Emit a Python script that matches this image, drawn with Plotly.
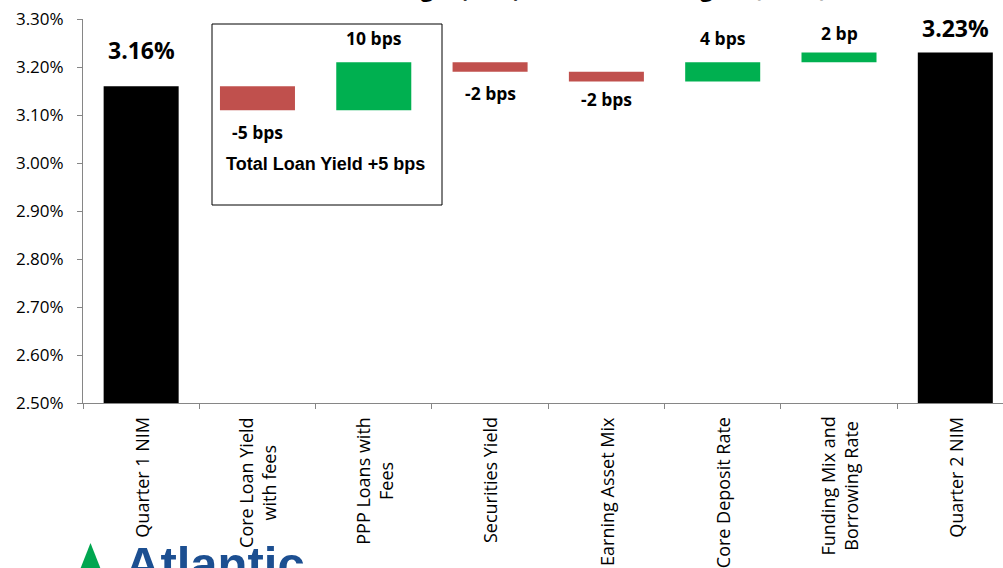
import plotly.graph_objects as go

# Net interest margin walk, quarter 1 -> quarter 2 (values in percent)
categories = [
    "Quarter 1 NIM",
    "Core Loan Yield<br>with fees",
    "PPP Loans with<br>Fees",
    "Securities Yield",
    "Earning Asset Mix",
    "Core Deposit Rate",
    "Funding Mix and<br>Borrowing Rate",
    "Quarter 2 NIM",
]
measures = ["absolute", "relative", "relative", "relative", "relative", "relative", "relative", "total"]
values = [3.16, -0.05, 0.10, -0.02, -0.02, 0.04, 0.02, 0.0]
value_labels = ["3.16%", "-5 bps", "10 bps", "-2 bps", "-2 bps", "4 bps", "2 bp", "3.23%"]
y_ticks = [2.50, 2.60, 2.70, 2.80, 2.90, 3.00, 3.10, 3.20, 3.30]

RED = "#C0504D"
GREEN = "#00B050"
AXIS = "#868686"
FONT = "Open Sans"

# plot area in pixels: x 83..1003, y 19..403
W, H = 1003, 568
L, R, T, B = 83, 0, 19, 165
pw, ph = W - L - R, H - T - B


def px(xp):
    return (xp - L) / pw


def py(yp):
    return (H - B - yp) / ph


fig = go.Figure(go.Waterfall(
    x=list(range(len(categories))),
    y=values,
    measure=measures,
    increasing=dict(marker=dict(color=GREEN)),
    decreasing=dict(marker=dict(color=RED)),
    totals=dict(marker=dict(color="black")),
    connector=dict(visible=False),
    hoverinfo="skip",
))

# running level to place value labels at bar ends
annotations = []
level = 0.0
label_shift = [36, -22, 24, -21, -18, 24, 20, 25]
for i, (m, v, lab) in enumerate(zip(measures, values, value_labels)):
    if m == "absolute":
        level = v
    elif m == "relative":
        level = level + v
    end = level
    is_total = m in ("absolute", "total")
    annotations.append(dict(
        x=i, y=end, xref="x", yref="y", text=f"<b>{lab}</b>", showarrow=False,
        xanchor="center", yanchor="middle", yshift=label_shift[i],
        font=dict(family=FONT, size=23 if is_total else 17.5, color="black"),
    ))

# category labels, rotated and centered per line
for i, c in enumerate(categories):
    annotations.append(dict(
        x=i, y=py(415), xref="x", yref="paper", text=c, showarrow=False,
        textangle=-90, yanchor="top", xanchor="center", align="center",
        font=dict(family=FONT, size=18, color="black"),
    ))

# total loan yield callout text
annotations.append(dict(
    x=px(325.5), y=py(164), xref="paper", yref="paper",
    xanchor="center", yanchor="middle",
    text="<b>Total Loan Yield +5 bps</b>", showarrow=False,
    font=dict(family="Liberation Sans", size=18, color="black"),
))

# chart title at the very top edge
annotations.append(dict(
    x=px(540), y=py(5), xref="paper", yref="paper", xanchor="center", yanchor="bottom",
    text="<b>Net Interest Margin (NIM) – Drivers of Margin</b> "
         "<span style='color:#7f7f7f'>(Q1 to Q2)</span>",
    showarrow=False,
    font=dict(family=FONT, size=22, color="black"),
))

# company wordmark
annotations.append(dict(
    x=px(123), y=py(535), xref="paper", yref="paper", xanchor="left", yanchor="top",
    text="<b>Atlantic</b>", showarrow=False,
    font=dict(family="Liberation Sans", size=49, color="#1C4F91"),
))

shapes = [
    dict(type="rect", xref="paper", yref="paper",
         x0=px(212), x1=px(442), y0=py(205), y1=py(24),
         line=dict(color="black", width=1), fillcolor="rgba(0,0,0,0)"),
    dict(type="path", xref="paper", yref="paper",
         path=f"M {px(90.5)} {py(543)} L {px(103.5)} {py(576)} L {px(77.5)} {py(576)} Z",
         line=dict(width=0), fillcolor="#00A650"),
]

fig.update_layout(
    width=W, height=H,
    margin=dict(l=L, r=R, t=T, b=B),
    paper_bgcolor="white", plot_bgcolor="white",
    showlegend=False,
    waterfallgap=0.355,
    annotations=annotations,
    shapes=shapes,
    xaxis=dict(
        type="linear", range=[-0.5, 7.41], showgrid=False, zeroline=False,
        showticklabels=False, tickvals=[i - 0.5 for i in range(9)],
        ticks="outside", ticklen=5, tickcolor=AXIS, tickwidth=1,
        showline=True, linecolor=AXIS, linewidth=1,
    ),
    yaxis=dict(
        range=[2.50, 3.30], showgrid=False, zeroline=False,
        tickvals=y_ticks, ticktext=[f"{t:.2f}%" for t in y_ticks],
        ticks="outside", ticklen=5, tickcolor=AXIS, tickwidth=1,
        ticklabelstandoff=10,
        showline=True, linecolor=AXIS, linewidth=1,
        tickfont=dict(family=FONT, size=17, color="black"),
    ),
)

fig.write_html("out.html")
